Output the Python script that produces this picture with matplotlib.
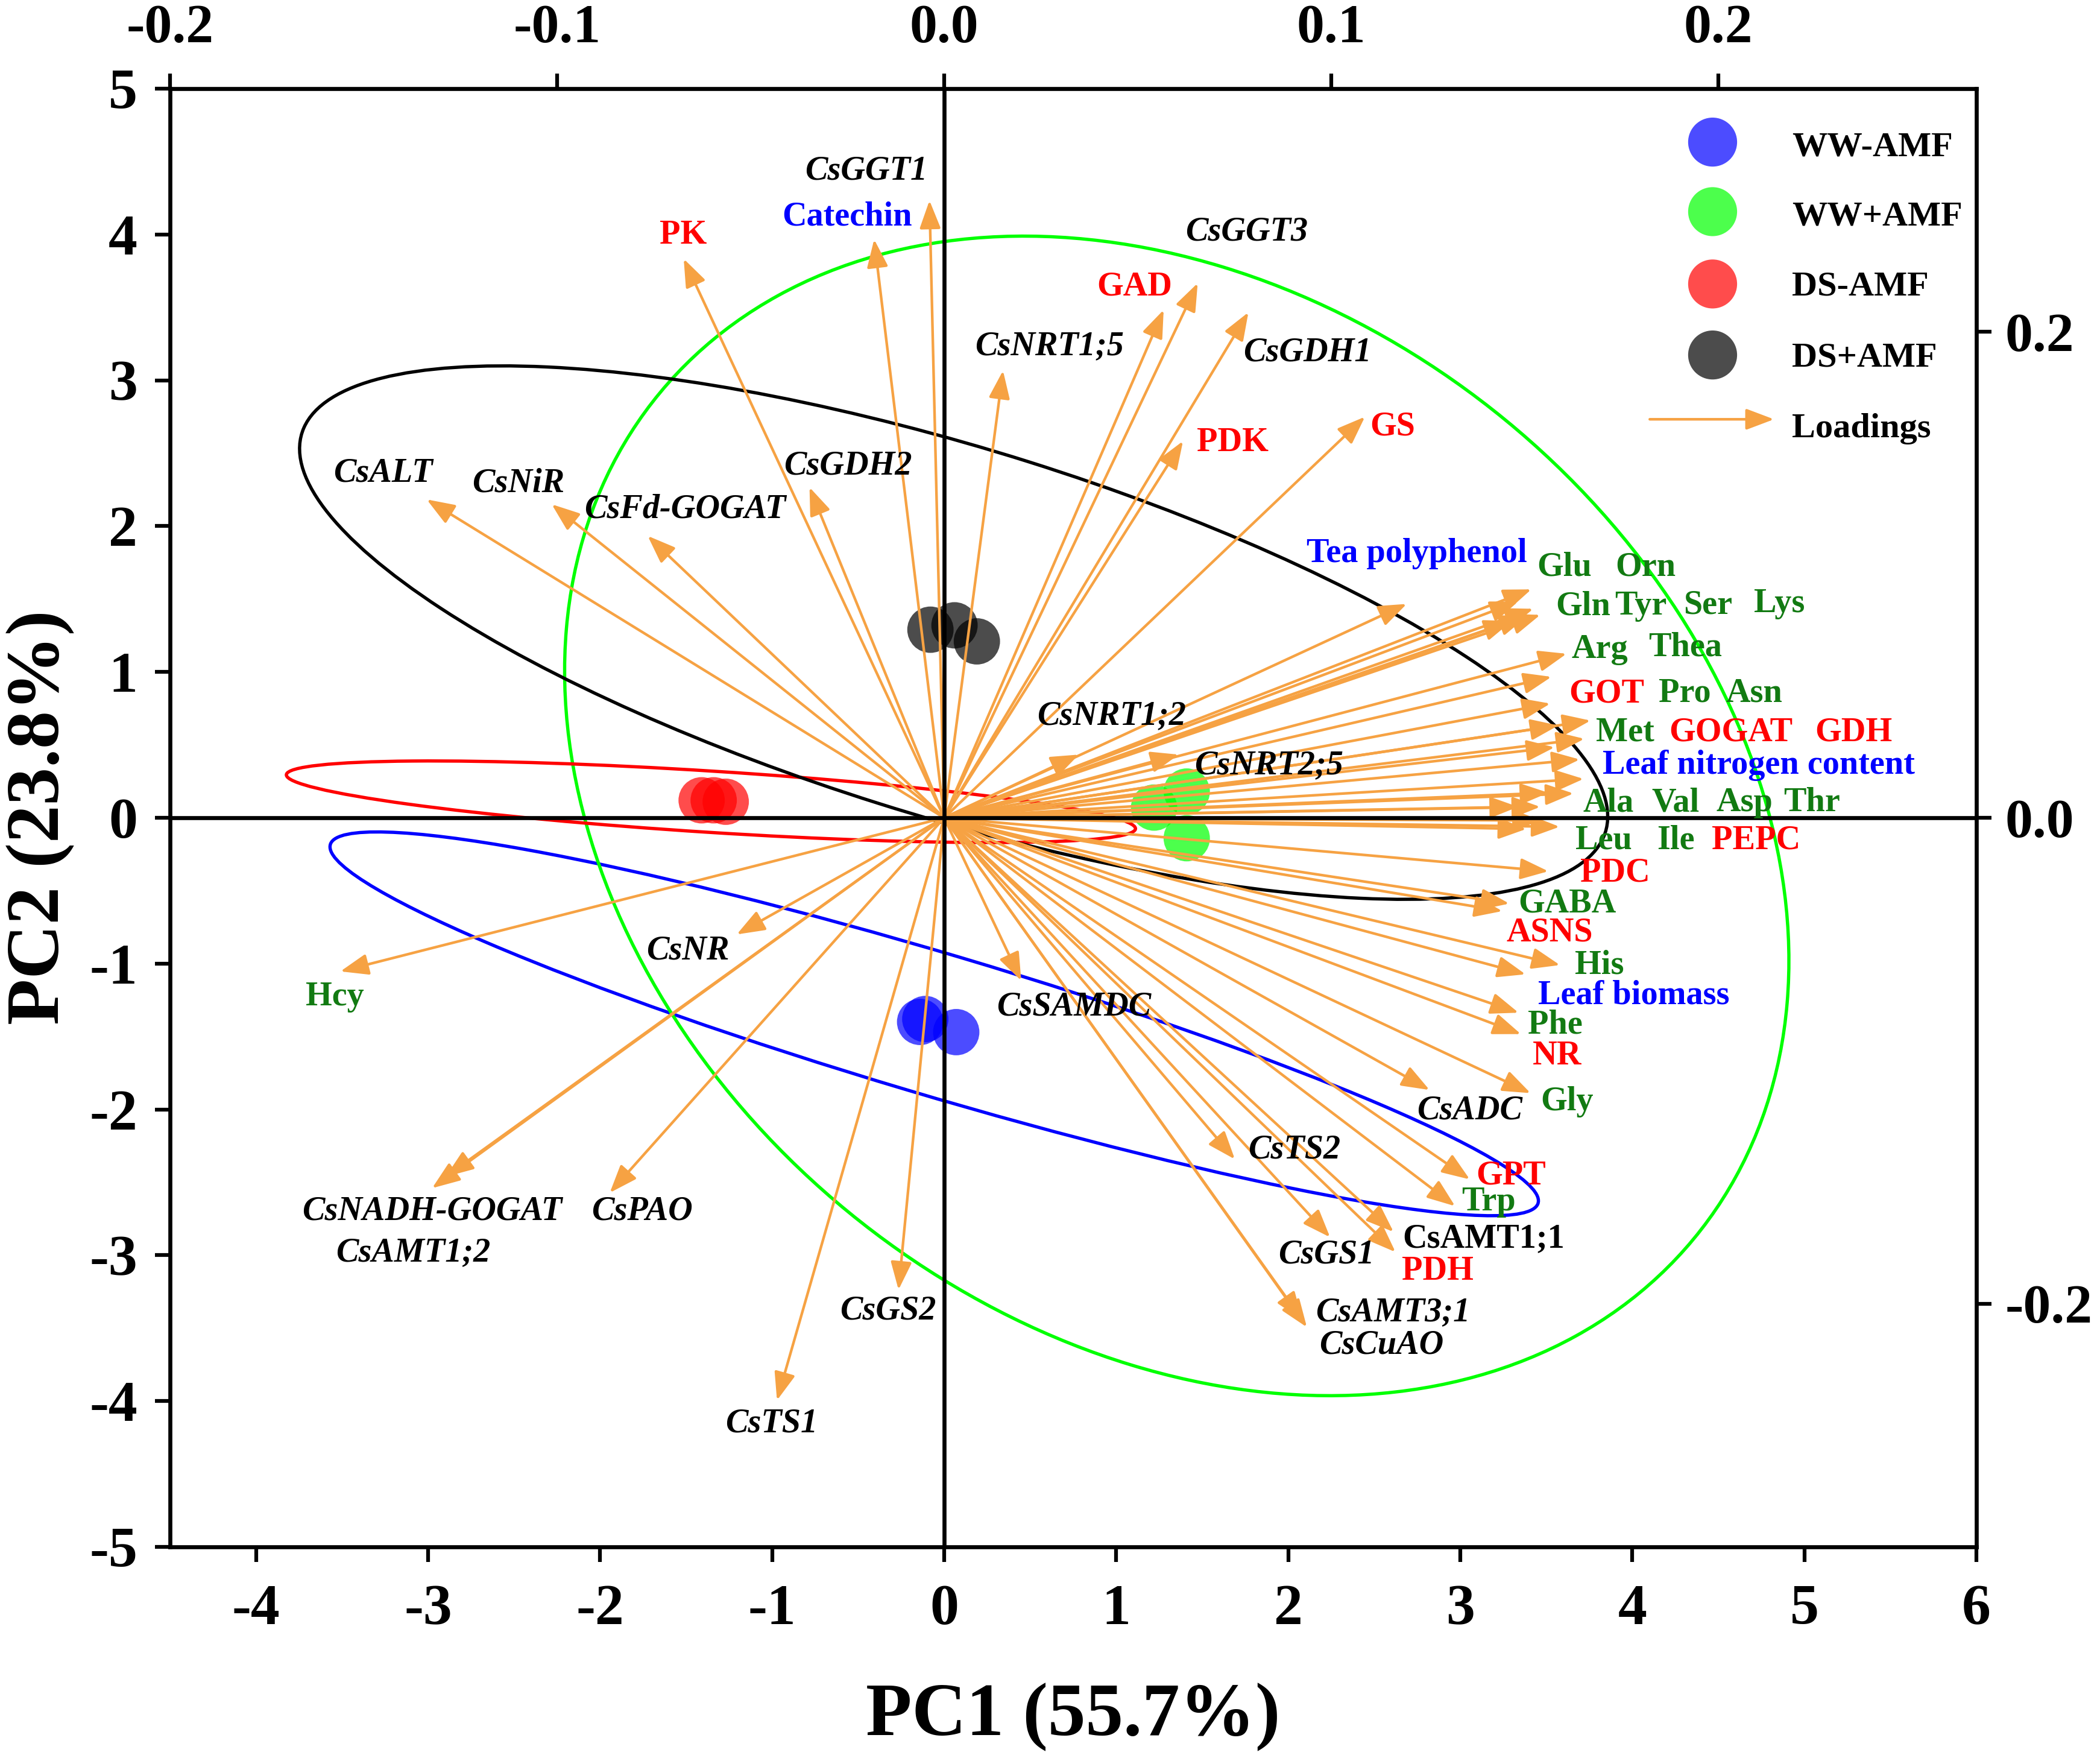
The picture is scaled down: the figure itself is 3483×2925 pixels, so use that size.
import matplotlib
matplotlib.use('Agg')
import matplotlib.pyplot as plt
from matplotlib.patches import Ellipse, FancyArrowPatch

plt.rcParams['font.family'] = ['Liberation Serif', 'DejaVu Serif']
plt.rcParams['font.weight'] = 'bold'
plt.rcParams['axes.unicode_minus'] = False

# ---------------- data ----------------
groups = ['WW-AMF', 'WW+AMF', 'DS-AMF', 'DS+AMF']
score_pc1 = [[-0.14, -0.11, 0.07],
             [1.22, 1.41, 1.41],
             [-1.41, -1.34, -1.27],
             [-0.08, 0.06, 0.19]]
score_pc2 = [[-1.40, -1.38, -1.47],
             [0.07, 0.18, -0.14],
             [0.12, 0.12, 0.11],
             [1.29, 1.32, 1.21]]

# confidence ellipses (PC score units)
ell_cx = [-0.058, 1.352, -1.356, 0.055]
ell_cy = [-1.413, 0.013, 0.11, 1.27]
ell_w = [7.44, 8.51, 4.95, 8.06]
ell_h = [0.96, 6.44, 0.42, 2.50]
ell_angle = [-19.4, 123.0, -4.3, -20.4]

# variable loadings (top / right axis units)
var_names = ['CsGGT1', 'Catechin', 'PK', 'CsALT', 'CsNiR', 'CsFd-GOGAT', 'CsGDH2',
             'CsNRT1;5', 'GAD', 'CsGGT3', 'CsGDH1', 'PDK', 'GS', 'Tea polyphenol',
             'Glu', 'Orn', 'Gln', 'Tyr', 'Ser', 'Lys', 'Arg', 'Thea', 'GOT', 'Pro',
             'Asn', 'Met', 'GOGAT', 'GDH', 'Leaf nitrogen content', 'Ala', 'Val',
             'Asp', 'Thr', 'Leu', 'Ile', 'PEPC',
             'PDC', 'GABA', 'ASNS', 'His', 'Leaf biomass', 'Phe', 'NR', 'Gly',
             'CsADC', 'CsTS2', 'GPT', 'Trp', 'CsAMT1;1', 'PDH', 'CsGS1',
             'CsAMT3;1', 'CsCuAO',
             'CsSAMDC', 'CsNRT1;2', 'CsNRT2;5', 'Hcy', 'CsNR', 'CsNADH-GOGAT',
             'CsAMT1;2', 'CsPAO', 'CsGS2', 'CsTS1']
var_kind = ['gene', 'trait', 'enzyme', 'gene', 'gene', 'gene', 'gene',
            'gene', 'enzyme', 'gene', 'gene', 'enzyme', 'enzyme', 'trait',
            'aa', 'aa', 'aa', 'aa', 'aa', 'aa', 'aa', 'aa', 'enzyme', 'aa',
            'aa', 'aa', 'enzyme', 'enzyme', 'trait', 'aa', 'aa',
            'aa', 'aa', 'aa', 'aa', 'enzyme',
            'enzyme', 'aa', 'enzyme', 'aa', 'trait', 'aa', 'enzyme', 'aa',
            'gene', 'gene', 'enzyme', 'aa', 'gene', 'enzyme', 'gene',
            'gene', 'gene',
            'gene', 'gene', 'gene', 'aa', 'gene', 'gene',
            'gene', 'gene', 'gene', 'gene']
load_pc1 = [-0.0038, -0.0181, -0.0673, -0.1337, -0.1014, -0.0766, -0.0348,
            0.0152, 0.0567, 0.0655, 0.0786, 0.0617, 0.1087, 0.1195,
            0.1517, 0.1483, 0.1522, 0.1540, 0.1467, 0.1507, 0.1608, 0.1569, 0.1566, 0.1670,
            0.1587, 0.1654, 0.1577, 0.1642, 0.1652, 0.1626, 0.1561,
            0.1540, 0.1483, 0.1590, 0.1504, 0.1542,
            0.1561, 0.1460, 0.1442, 0.1591, 0.1502, 0.1484, 0.1490, 0.1515,
            0.1254, 0.0751, 0.1358, 0.1320, 0.1161, 0.1166, 0.0997,
            0.0937, 0.0925,
            0.0199, 0.0348, 0.0606, -0.1560, -0.0536, -0.1323,
            -0.1288, -0.0864, -0.0118, -0.0432]
load_pc2 = [0.254, 0.238, 0.230, 0.131, 0.129, 0.116, 0.136,
            0.184, 0.209, 0.220, 0.208, 0.155, 0.165, 0.088,
            0.094, 0.089, 0.086, 0.0835, 0.081, 0.083, 0.0675, 0.058, 0.047, 0.040,
            0.038, 0.0325, 0.029, 0.024, 0.016, 0.010, 0.0103,
            0.0045, 0.0045, -0.0037, -0.0046, -0.0011,
            -0.022, -0.0353, -0.0384, -0.0606, -0.0644, -0.0802, -0.089, -0.1133,
            -0.112, -0.1405, -0.1488, -0.1598, -0.1704, -0.1787, -0.1726,
            -0.2096, -0.2066,
            -0.067, 0.026, 0.026, -0.0632, -0.048, -0.1524,
            -0.1477, -0.1543, -0.1942, -0.2397]

# ---------------- layout (label placement, loading-axis units) ----------------
label_xy = {
    'CsGGT1': (-0.0201, 0.2661), 'Catechin': (-0.0251, 0.2474), 'PK': (-0.0675, 0.2397),
    'CsALT': (-0.1449, 0.1419), 'CsNiR': (-0.1101, 0.1377), 'CsFd-GOGAT': (-0.0669, 0.1269),
    'CsGDH2': (-0.0248, 0.1449), 'CsNRT1;5': (0.0272, 0.1939), 'GAD': (0.0491, 0.2184),
    'CsGGT3': (0.0781, 0.2412), 'CsGDH1': (0.0939, 0.1914), 'PDK': (0.0746, 0.1543),
    'GS': (0.1158, 0.1609), 'Tea polyphenol': (0.1221, 0.1086),
    'Glu': (0.1603, 0.1031), 'Orn': (0.1812, 0.1030), 'Gln': (0.1651, 0.0871),
    'Tyr': (0.1800, 0.0871), 'Ser': (0.1973, 0.0876), 'Lys': (0.2158, 0.0882),
    'Arg': (0.1693, 0.0693), 'Thea': (0.1914, 0.0700), 'GOT': (0.1711, 0.0510),
    'Pro': (0.1914, 0.0512), 'Asn': (0.2092, 0.0512), 'Met': (0.1760, 0.0350),
    'GOGAT': (0.2033, 0.0350), 'GDH': (0.2349, 0.0350),
    'Leaf nitrogen content': (0.2104, 0.0217), 'Ala': (0.1716, 0.0062),
    'Val': (0.1890, 0.0062), 'Asp': (0.2068, 0.0062), 'Thr': (0.2241, 0.0062),
    'Leu': (0.1704, -0.0094), 'Ile': (0.1890, -0.0094), 'PEPC': (0.2098, -0.0094),
    'PDC': (0.1734, -0.0226), 'GABA': (0.1609, -0.0353), 'ASNS': (0.1564, -0.0473),
    'His': (0.1693, -0.0606), 'Leaf biomass': (0.1782, -0.0730), 'Phe': (0.1579, -0.0852),
    'NR': (0.1583, -0.0979), 'Gly': (0.1609, -0.1168), 'CsADC': (0.1358, -0.1204),
    'CsTS2': (0.0904, -0.1366), 'GPT': (0.1465, -0.1473), 'Trp': (0.1406, -0.1580),
    'CsAMT1;1': (0.1394, -0.1732), 'PDH': (0.1275, -0.1865), 'CsGS1': (0.0987, -0.1799),
    'CsAMT3;1': (0.1159, -0.2036), 'CsCuAO': (0.1129, -0.2169),
    'CsSAMDC': (0.0335, -0.0778), 'CsNRT1;2': (0.0432, 0.0418), 'CsNRT2;5': (0.0839, 0.0215),
    'Hcy': (-0.1574, -0.0737), 'CsNR': (-0.0662, -0.0547),
    'CsNADH-GOGAT': (-0.1323, -0.1619), 'CsAMT1;2': (-0.1372, -0.1790),
    'CsPAO': (-0.0780, -0.1619), 'CsGS2': (-0.0146, -0.2028), 'CsTS1': (-0.0446, -0.2492),
}
upright_genes = {'CsAMT1;1'}

pt_colors = ['#0000FF', '#00FF00', '#FF0000', '#000000']
ell_colors = ['#0000FF', '#00FF00', '#FF0000', '#000000']
kind_color = {'gene': '#000000', 'enzyme': '#FF0000', 'aa': '#127A12', 'trait': '#0000FF'}
arrow_color = '#F6A243'

# ---------------- figure ----------------
fig = plt.figure(figsize=(11.61, 9.75), dpi=300)
pos = [0.0810, 0.1231, 0.8601, 0.8266]
ax = fig.add_axes(pos)
ax.set_xlim(-4.5, 6)
ax.set_ylim(-5, 5)
ax.set_xticks(range(-4, 7))
ax.set_yticks(range(-5, 6))
ax.tick_params(direction='out', length=6, width=1.5, labelsize=23)
ax.tick_params(axis='x', pad=9)
ax.tick_params(axis='y', pad=7)
for s in ax.spines.values():
    s.set_linewidth(1.6)

for i, g in enumerate(groups):
    ax.scatter(score_pc1[i], score_pc2[i], s=340, color=pt_colors[i], alpha=0.7,
               edgecolors='none', zorder=2)
    e = Ellipse((ell_cx[i], ell_cy[i]), ell_w[i], ell_h[i], angle=ell_angle[i],
                fill=False, edgecolor=ell_colors[i], lw=1.3, zorder=1)
    ax.add_patch(e)

# overlay axes for loadings
ax2 = fig.add_axes(pos, frameon=False)
ax2.set_xlim(-0.2, 6 / 22.5)
ax2.set_ylim(-0.3, 0.3)
ax2.xaxis.tick_top()
ax2.yaxis.tick_right()
ax2.set_xticks([-0.2, -0.1, 0.0, 0.1, 0.2])
ax2.set_xticklabels(['-0.2', '-0.1', '0.0', '0.1', '0.2'])
ax2.set_yticks([-0.2, 0.0, 0.2])
ax2.set_yticklabels(['-0.2', '0.0', '0.2'])
ax2.tick_params(direction='out', length=6, width=1.5, labelsize=22)
ax2.tick_params(axis='x', pad=8)
ax2.tick_params(axis='y', pad=5.5)

for name, kind, lx, ly in zip(var_names, var_kind, load_pc1, load_pc2):
    arr = FancyArrowPatch((0, 0), (lx, ly),
                          arrowstyle='-|>,head_length=0.45,head_width=0.17',
                          mutation_scale=21, color=arrow_color, lw=1.05,
                          shrinkA=0, shrinkB=0, zorder=3)
    ax2.add_patch(arr)
    tx, ty = label_xy[name]
    style = 'italic' if (kind == 'gene' and name not in upright_genes) else 'normal'
    ax2.text(tx, ty, name, color=kind_color[kind], fontsize=13.5, fontweight='bold',
             fontstyle=style, ha='center', va='center', zorder=5)

ax2.axhline(0, color='black', lw=1.6, zorder=4)
ax2.axvline(0, color='black', lw=1.6, zorder=4)

# legend
leg_my = [0.9634, 0.9157, 0.8661, 0.8174]
leg_ty = [0.9597, 0.9120, 0.8642, 0.8155]
for i, g in enumerate(groups):
    ax2.scatter([0.854], [leg_my[i]], s=380, color=pt_colors[i], alpha=0.7,
                edgecolors='none', transform=ax2.transAxes, clip_on=False, zorder=6)
    ax2.text(0.8978, leg_ty[i], g, transform=ax2.transAxes, fontsize=14,
             fontweight='bold', ha='left', va='center')
ax2.add_patch(FancyArrowPatch((0.8192, 0.7733), (0.888, 0.7733),
                              arrowstyle='-|>,head_length=0.45,head_width=0.17',
                              mutation_scale=21, color=arrow_color, lw=1.05,
                              shrinkA=0, shrinkB=0, transform=ax2.transAxes))
ax2.text(0.8978, 0.7669, 'Loadings', transform=ax2.transAxes, fontsize=14,
         fontweight='bold', ha='left', va='center')

fig.text(0.511, 0.0267, 'PC1 (55.7%)', fontsize=30, fontweight='bold',
         ha='center', va='center')
fig.text(0.0192, 0.5368, 'PC2 (23.8%)', fontsize=30, fontweight='bold',
         ha='center', va='center', rotation=90)

fig.savefig('out.png', dpi=300)
